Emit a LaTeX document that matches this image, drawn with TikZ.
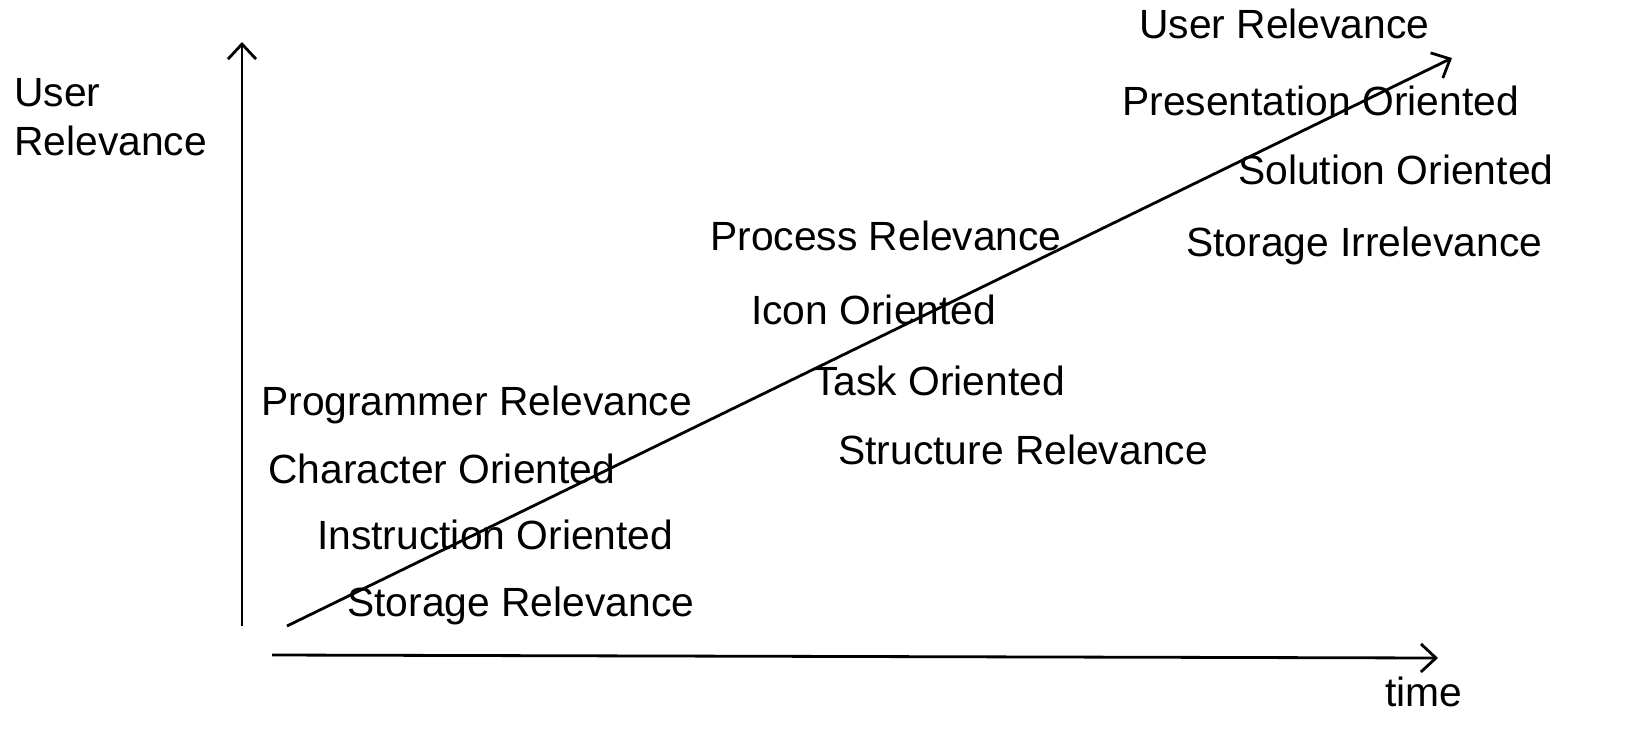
\documentclass[tikz,border=0pt]{standalone}
\usepackage{fontspec}
\setmainfont{Liberation Sans}
\usetikzlibrary{arrows.meta}
\begin{document}
\begin{tikzpicture}[x=1pt,y=-1pt,
  lbl/.style={anchor=west,inner sep=0pt,text height=0.716em,text depth=0pt,font=\fontsize{40.8}{49}\selectfont,yshift=-11pt},
  axis/.style={line width=2.8pt,-{Straight Barb[length=15pt,width=28pt,line width=2.8pt]}}]
\useasboundingbox (0,0) rectangle (1625,737);
\coordinate (yb) at (242,626);
\coordinate (yt) at (242,42);
\coordinate (xb) at (272,655);
\coordinate (xt) at (1438,658);
\coordinate (db) at (287,626);
\coordinate (dt) at (1452,58);
\draw[axis] (yb) -- (yt);
\draw[axis] (xb) -- (xt);
\draw[axis] (db) -- (dt);
\node[lbl] (u1) at (14,92) {User};
\node[lbl] (u2) at (14,141) {Relevance};
\node[lbl] (t) at (1385,692) {time};
\node[lbl] (a1) at (1139,24) {User Relevance};
\node[lbl] (a2) at (1122,101) {Presentation Oriented};
\node[lbl] (a3) at (1238,170) {Solution Oriented};
\node[lbl] (a4) at (1186,242) {Storage Irrelevance};
\node[lbl] (b1) at (710,236) {Process Relevance};
\node[lbl] (b2) at (751,310) {Icon Oriented};
\node[lbl] (b3) at (813,381) {Task Oriented};
\node[lbl] (b4) at (838,450) {Structure Relevance};
\node[lbl] (c1) at (261,401) {Programmer Relevance};
\node[lbl] (c2) at (268,469) {Character Oriented};
\node[lbl] (c3) at (317,535) {Instruction Oriented};
\node[lbl] (c4) at (347,602) {Storage Relevance};
\end{tikzpicture}
\end{document}
